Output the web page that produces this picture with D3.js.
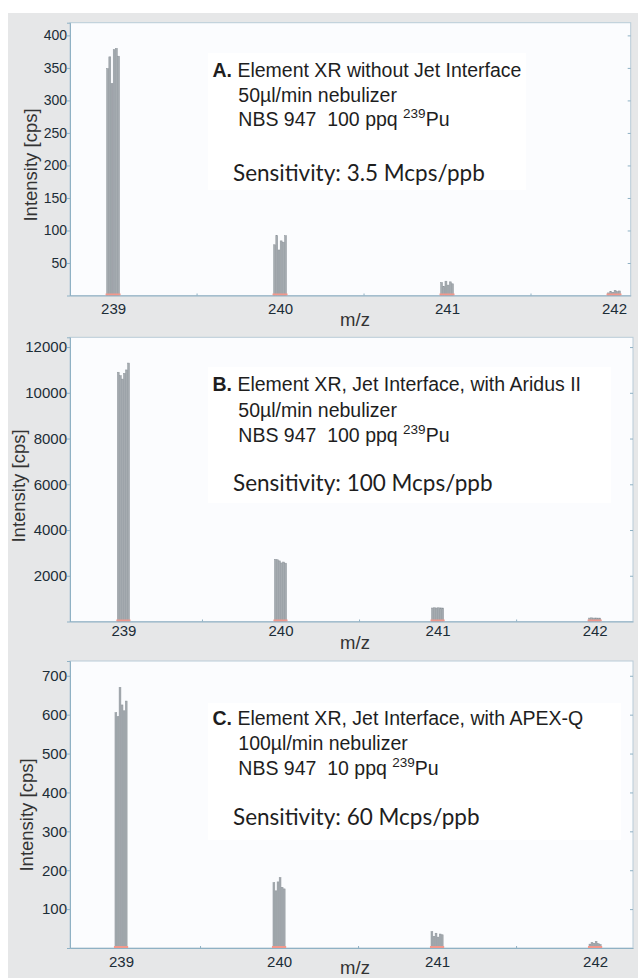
<!DOCTYPE html>
<html>
<head>
<meta charset="utf-8">
<script src="https://cdn.jsdelivr.net/npm/d3@7/dist/d3.min.js"></script>
<style>
    body { margin: 0; background: #fff; }
    .chart text { font-family: "Liberation Sans", Arial, sans-serif; }
    .chart .tick text { fill: #1c2d37; }
    .chart .tick line { stroke: #8fb1c4; }
    .chart .domain { stroke: #8fb1c4; }
    .chart .frame { fill: #fbfcfe; stroke: #b9ccd8; }
    .chart .scan { fill: #a5abb0; stroke: #8c9399; stroke-width: 0.5; }
    .chart .base { stroke: #f3988c; stroke-width: 2; }
    .chart .label { fill: #333; font-size: 18.5px; }
    .chart .note { fill: #1e1e1e; font-size: 19.5px; white-space: pre; }
    .chart .sens { fill: #1e1e1e; font-family: Lato, "Open Sans", sans-serif; font-size: 22.5px; }
</style>
</head>
<body>
<svg class="chart"></svg>
<script>
var masses = [239, 240, 241, 242];

// intensity of each scan channel across the peak window, per mass (cps)
var countsA = [
    [349, 367, 326, 378, 380, 368],
    [78, 92, 70, 84, 82, 92],
    [20, 14, 22, 16, 21, 18],
    [4, 6, 5, 8, 6, 7]
];
var countsB = [
    [10900, 10750, 10600, 10850, 11000, 11300],
    [2720, 2700, 2650, 2560, 2600, 2550],
    [590, 600, 590, 600, 595, 590],
    [150, 160, 150, 155, 150, 150]
];
var countsC = [
    [605, 595, 670, 625, 610, 635],
    [168, 147, 170, 181, 156, 152],
    [42, 30, 38, 28, 36, 34],
    [10, 14, 12, 17, 11, 9]
];

var yTicksA = [50, 100, 150, 200, 250, 300, 350, 400];
var yTicksB = [2000, 4000, 6000, 8000, 10000, 12000];
var yTicksC = [100, 200, 300, 400, 500, 600, 700];

var letters = ["A.", "B.", "C."];
var titles = ["Element XR without Jet Interface",
              "Element XR, Jet Interface, with Aridus II",
              "Element XR, Jet Interface, with APEX-Q"];
var flows = ["50µl/min nebulizer", "50µl/min nebulizer", "100µl/min nebulizer"];
var samples = ["NBS 947  100 ppq ", "NBS 947  100 ppq ", "NBS 947  10 ppq "];
var sensitivities = ["Sensitivity: 3.5 Mcps/ppb",
                     "Sensitivity: 100 Mcps/ppb",
                     "Sensitivity: 60 Mcps/ppb"];

var width = 638, height = 978;
var left = 70;
var peakWindow = 0.08;

var panels = [
    { counts: countsA, ticks: yTicksA, top: 22.7, bottom: 295.5, right: 630.7, tickFont: 14,
      xDomain: [238.742, 242.10], yMax: 419.5, tickGap: 20, ylabX: 37, ylabY: 165, mzY: 326,
      box: [208, 53, 318, 137], lines: [76.7, 101.5, 126, 180.5] },
    { counts: countsB, ticks: yTicksB, top: 337.3, bottom: 621.5, right: 633, tickFont: 15,
      xDomain: [238.66, 242.244], yMax: 12427, tickGap: 16, ylabX: 25, ylabY: 486, mzY: 649,
      box: [208, 367, 403, 136], lines: [391, 416.5, 441.5, 491] },
    { counts: countsC, ticks: yTicksC, top: 661, bottom: 948, right: 633, tickFont: 15,
      xDomain: [238.677, 242.24], yMax: 738, tickGap: 20, ylabX: 33, ylabY: 815, mzY: 974,
      box: [208, 703, 413, 137], lines: [725, 750, 775, 825] }
];

var chart = d3.select(".chart")
    .attr("width", width)
    .attr("height", height);

chart.append("rect")
    .attr("x", 8).attr("y", 13)
    .attr("width", width - 8).attr("height", height - 13)
    .attr("fill", "#e6e7e8");

panels.forEach(function (p, i) {
    var x = d3.scaleLinear().domain(p.xDomain).range([left, p.right]);
    var y = d3.scaleLinear().domain([0, p.yMax]).range([p.bottom, p.top]);

    chart.append("rect")
        .attr("class", "frame")
        .attr("x", left).attr("y", p.top)
        .attr("width", p.right - left).attr("height", p.bottom - p.top);

    // text box
    chart.append("rect")
        .attr("x", p.box[0]).attr("y", p.box[1])
        .attr("width", p.box[2]).attr("height", p.box[3])
        .attr("fill", "#fff");

    // peaks
    p.counts.forEach(function (chan, k) {
        var m = masses[k];
        var band = d3.scaleBand()
            .domain(d3.range(chan.length))
            .range([x(m - peakWindow / 2), x(m + peakWindow / 2)])
            .padding(0.12);
        chart.append("g").selectAll("rect")
            .data(chan)
            .enter().append("rect")
            .attr("class", "scan")
            .attr("x", function (d, j) { return band(j); })
            .attr("width", band.bandwidth())
            .attr("y", function (d) { return y(d); })
            .attr("height", function (d) { return p.bottom - y(d); });
        chart.append("line")
            .attr("class", "base")
            .attr("x1", x(m - peakWindow / 2 - 0.005)).attr("x2", x(m + peakWindow / 2 + 0.005))
            .attr("y1", p.bottom - 1).attr("y2", p.bottom - 1);
    });

    // axes
    var axisY = d3.axisLeft(y).tickValues(p.ticks).tickSize(3).tickPadding(0)
        .tickFormat(d3.format("d"));
    chart.append("g")
        .attr("transform", "translate(" + left + ",0)")
        .call(axisY)
        .selectAll("text").style("font-size", p.tickFont + "px");

    var axisR = d3.axisLeft(y).tickValues(p.ticks).tickSize(3).tickFormat("");
    chart.append("g")
        .attr("transform", "translate(" + p.right + ",0)")
        .call(axisR)
        .select(".domain").remove();

    var axisX = d3.axisBottom(x).tickValues(masses).tickSize(0).tickPadding(p.tickGap - 12)
        .tickFormat(d3.format("d"));
    chart.append("g")
        .attr("transform", "translate(0," + p.bottom + ")")
        .call(axisX)
        .selectAll("text").style("font-size", "15px");

    var axisMinor = d3.axisTop(x).tickValues([239.5, 240.5, 241.5]).tickSize(2).tickFormat("");
    chart.append("g")
        .attr("transform", "translate(0," + p.bottom + ")")
        .call(axisMinor)
        .select(".domain").remove();

    // axis titles
    chart.append("text")
        .attr("class", "label")
        .attr("text-anchor", "middle")
        .attr("transform", "translate(" + p.ylabX + "," + p.ylabY + ") rotate(-90)")
        .text("Intensity [cps]");
    chart.append("text")
        .attr("class", "label")
        .attr("text-anchor", "middle")
        .attr("x", 355).attr("y", p.mzY)
        .text("m/z");

    // annotation
    var t1 = chart.append("text").attr("class", "note")
        .attr("x", 212.5).attr("y", p.lines[0]);
    t1.append("tspan").attr("font-weight", "bold").text(letters[i]);
    t1.append("tspan").text(" " + titles[i]);

    chart.append("text").attr("class", "note")
        .attr("x", 238.3).attr("y", p.lines[1])
        .text(flows[i]);

    var t3 = chart.append("text").attr("class", "note")
        .attr("x", 238.3).attr("y", p.lines[2]);
    t3.append("tspan").text(samples[i]);
    t3.append("tspan").attr("font-size", "13.5px").attr("dy", -8).text("239");
    t3.append("tspan").attr("dy", 8).text("Pu");

    chart.append("text").attr("class", "sens")
        .attr("x", 233).attr("y", p.lines[3])
        .text(sensitivities[i]);
});
</script>
</body>
</html>
